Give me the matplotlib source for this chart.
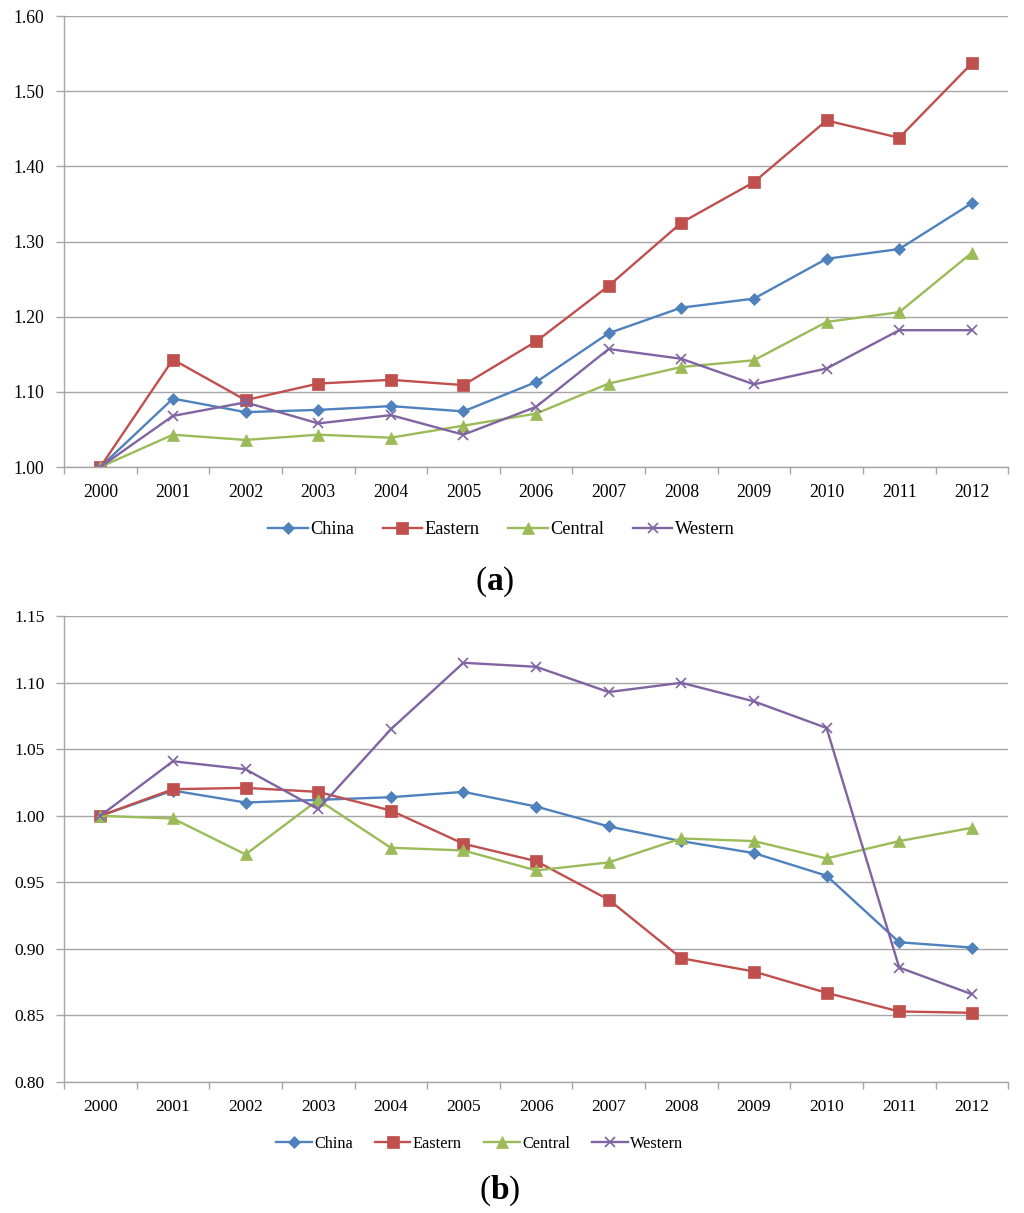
import matplotlib
matplotlib.use("Agg")
import matplotlib.pyplot as plt
import numpy as np

plt.rcParams['font.family'] = ['Liberation Serif', 'DejaVu Serif']
plt.rcParams['mathtext.fontset'] = 'custom'
plt.rcParams['mathtext.rm'] = 'Liberation Serif'
plt.rcParams['mathtext.bf'] = 'Liberation Serif:bold'

years = ['2000', '2001', '2002', '2003', '2004', '2005', '2006', '2007',
         '2008', '2009', '2010', '2011', '2012']
series_names = ['China', 'Eastern', 'Central', 'Western']

a_china = [1.000, 1.091, 1.073, 1.076, 1.081, 1.074, 1.113, 1.178, 1.212, 1.224, 1.277, 1.290, 1.351]
a_eastern = [1.000, 1.143, 1.089, 1.111, 1.116, 1.109, 1.167, 1.241, 1.325, 1.379, 1.461, 1.438, 1.537]
a_central = [1.000, 1.043, 1.036, 1.043, 1.039, 1.055, 1.071, 1.111, 1.133, 1.142, 1.193, 1.206, 1.285]
a_western = [1.000, 1.068, 1.086, 1.058, 1.069, 1.043, 1.080, 1.157, 1.144, 1.110, 1.131, 1.182, 1.182]

b_china = [1.000, 1.019, 1.010, 1.012, 1.014, 1.018, 1.007, 0.992, 0.981, 0.972, 0.955, 0.905, 0.901]
b_eastern = [1.000, 1.020, 1.021, 1.018, 1.004, 0.979, 0.966, 0.937, 0.893, 0.883, 0.867, 0.853, 0.852]
b_central = [1.000, 0.998, 0.971, 1.012, 0.976, 0.974, 0.959, 0.965, 0.983, 0.981, 0.968, 0.981, 0.991]
b_western = [1.000, 1.041, 1.035, 1.005, 1.065, 1.115, 1.112, 1.093, 1.100, 1.086, 1.066, 0.886, 0.866]

a_yticks = [1.00, 1.10, 1.20, 1.30, 1.40, 1.50, 1.60]
b_yticks = [0.80, 0.85, 0.90, 0.95, 1.00, 1.05, 1.10, 1.15]

colors = ['#4F81BD', '#C0504D', '#9BBB59', '#8064A2']
markers = ['D', 's', '^', 'x']
msizes = [6, 8, 8, 7]

fig = plt.figure(figsize=(10.24, 12.13), dpi=100)
ax1 = fig.add_axes([0.0625, 0.615, 0.922, 0.3718])
ax2 = fig.add_axes([0.0625, 0.108, 0.922, 0.384])

def style(ax, data, yticks, ylim, fs, lfs, legend_y, legend_x, hl, cs,
          label, label_x, label_y):
    x = np.arange(len(years))
    handles = []
    for vals, name, c, m, ms in zip(data, series_names, colors, markers, msizes):
        h, = ax.plot(x, vals, color=c, marker=m, markersize=ms, linewidth=1.7,
                     markeredgewidth=1.2 if m == 'x' else 0.5,
                     markeredgecolor=c, label=name)
        handles.append(h)
    ax.set_xlim(-0.5, len(years) - 0.5)
    ax.set_ylim(*ylim)
    ax.set_yticks(yticks)
    ax.set_yticklabels(['%.2f' % v for v in yticks], fontsize=fs)
    ax.set_xticks(x)
    ax.set_xticklabels(years, fontsize=fs)
    ax.set_xticks(np.arange(-0.5, len(years)), minor=True)
    ax.tick_params(axis='x', which='major', length=0, pad=12)
    ax.tick_params(axis='x', which='minor', length=5, color='#a6a6a6', width=1)
    ax.tick_params(axis='y', length=6, color='#a6a6a6', width=1, pad=8)
    ax.grid(axis='y', color='#a6a6a6', linewidth=1)
    ax.set_axisbelow(True)
    for s in ['top', 'right']:
        ax.spines[s].set_visible(False)
    for s in ['left', 'bottom']:
        ax.spines[s].set_color('#a6a6a6')
        ax.spines[s].set_linewidth(1)
    fig.legend(handles=handles, loc='center', bbox_to_anchor=(legend_x, legend_y),
               ncol=4, frameon=False, fontsize=lfs, handlelength=hl,
               columnspacing=cs, handletextpad=0.15)
    fig.text(label_x, label_y, r'($\mathbf{' + label + r'}$)', ha='center',
             va='center', fontsize=24)

style(ax1, [a_china, a_eastern, a_central, a_western], a_yticks, (1.0, 1.6),
      12.7, 13.2, 1 - 530 / 1213, 501.5 / 1024, 2.15, 1.55,
      'a', 494.5 / 1024, 1 - 582 / 1213)
style(ax2, [b_china, b_eastern, b_central, b_western], b_yticks, (0.8, 1.15),
      12.5, 11.7, 1 - 1144 / 1213, 479.5 / 1024, 2.2, 1.35,
      'b', 500 / 1024, 1 - 1191 / 1213)

fig.savefig('out.png', dpi=100, facecolor='white')
